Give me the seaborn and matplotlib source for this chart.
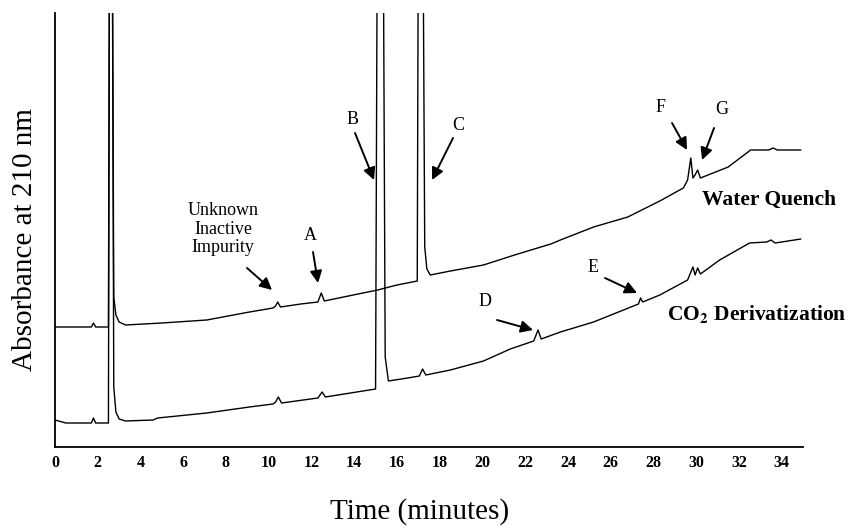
import numpy as np
import pandas as pd
import matplotlib
matplotlib.use("Agg")
import matplotlib.pyplot as plt
from matplotlib.ticker import MultipleLocator
import seaborn as sns

# ---- data (time in minutes, absorbance in arbitrary detector units) ----
water_time = [0.0, 1.7, 1.8, 1.9, 2.5, 2.55, 2.68, 2.75, 2.85, 3.0, 3.3, 5.0, 7.1, 9.1,
              10.2, 10.32, 10.42, 10.55, 11.5, 12.3, 12.46, 12.6, 13.5, 15.1, 16.0,
              16.95, 17.0, 17.22, 17.3, 17.4, 17.56, 18.5, 20.05, 21.5, 23.2, 23.65,
              25.2, 26.8, 28.3, 29.4, 29.6, 29.75, 29.85, 29.95, 30.07, 30.2, 31.5,
              32.55, 33.4, 33.6, 33.8, 34.9]
water_abs = [120, 120, 124, 120, 120, 520, 520, 150, 132, 125, 122, 124, 127, 135,
             139, 141, 145, 140, 143, 145, 154, 146, 150, 157, 162,
             166, 520, 520, 200, 178, 172, 176, 182, 192, 203, 207,
             220, 230, 246, 259, 267, 289, 269, 272, 277, 269, 280,
             297, 297, 299, 297, 297]

co2_time = [0.0, 0.5, 1.7, 1.8, 1.9, 2.5, 2.55, 2.68, 2.75, 2.85, 3.0, 3.3, 4.6, 4.8,
            7.1, 9.1, 10.2, 10.32, 10.45, 10.6, 12.3, 12.5, 12.65, 15.0, 15.08, 15.36,
            15.45, 15.6, 16.5, 17.05, 17.2, 17.35, 18.5, 20.05, 21.3, 22.4, 22.6, 22.75,
            23.65, 25.2, 27.3, 27.4, 27.5, 28.3, 29.6, 29.85, 29.95, 30.07, 30.2, 31.1,
            32.5, 33.3, 33.5, 33.7, 34.9]
co2_abs = [27, 24, 24, 29, 24, 24, 520, 520, 60, 35, 28, 26, 27, 29,
           34, 40, 43, 45, 50, 44, 49, 55, 50, 58, 520, 520,
           90, 66, 69, 71, 78, 72, 77, 86, 98, 106, 117, 108,
           115, 125, 143, 149, 145, 152, 167, 180, 172, 179, 173, 187,
           204, 205, 207, 204, 208]

x_ticks = list(range(0, 35, 2))

water = pd.DataFrame({"time": water_time, "abs": water_abs})
co2 = pd.DataFrame({"time": co2_time, "abs": co2_abs})

sns.set_style("white")
plt.rcParams["font.family"] = ["Liberation Serif", "DejaVu Serif"]
plt.rcParams["mathtext.fontset"] = "stix"
plt.rcParams["text.color"] = "black"
plt.rcParams["axes.labelcolor"] = "black"
plt.rcParams["xtick.color"] = "black"
plt.rcParams["xtick.labelcolor"] = "black"

fig = plt.figure(figsize=(8.52, 5.31), dpi=100)
ax = fig.add_axes([55 / 852, 84 / 531, 748 / 852, 434 / 531])

for df in (water, co2):
    sns.lineplot(data=df, x="time", y="abs", ax=ax, color="black", lw=1.0,
                 estimator=None, sort=False)

ax.set_xlim(0, 35)
ax.set_ylim(0, 434)
ax.set_yticks([])
ax.set_xticks(x_ticks)
ax.set_xticklabels([str(t) for t in x_ticks], fontweight="bold", fontsize=11.5,
                   color="black")
ax.xaxis.set_minor_locator(MultipleLocator(0.2))
ax.tick_params(axis="x", which="major", direction="in", length=6, width=1.0,
               pad=6, color="black", labelcolor="black")
ax.tick_params(axis="x", which="minor", direction="in", length=3, width=0.8,
               color="black")
for s in ("top", "right"):
    ax.spines[s].set_visible(False)
for s in ("left", "bottom"):
    ax.spines[s].set_color("black")
    ax.spines[s].set_linewidth(1.3)

ax.set_xlabel("Time (minutes)", fontsize=21, va="center", color="black")
ax.xaxis.set_label_coords(0.487, -0.148)
ax.set_ylabel("Absorbance at 210 nm", fontsize=21, va="center", color="black")
ax.yaxis.set_label_coords(-0.04, 0.477)


def px(xp, yp):
    return ((xp - 55) / 21.37, 447 - yp)


arrow = dict(arrowstyle="-|>", mutation_scale=18, lw=1.4, color="black",
             shrinkA=0, shrinkB=0)

notes = [
    ("Unknown\nInactive\nImpurity", (223, 229), (247, 268), (272, 290)),
    ("A", (310, 235), (313, 252), (318, 283)),
    ("B", (352, 120), (355, 133), (374, 180)),
    ("C", (458, 125), (453, 138), (432, 180)),
    ("D", (485, 302), (497, 320), (533, 330)),
    ("E", (593, 268), (605, 278), (637, 293)),
    ("F", (660, 108), (672, 123), (687, 150)),
    ("G", (722, 110), (714, 128), (702, 160)),
]
for label, tpos, a0, a1 in notes:
    ax.text(*px(*tpos), label, ha="center", va="center", fontsize=13,
            linespacing=1.1, color="black")
    ax.annotate("", xy=px(*a1), xytext=px(*a0), arrowprops=arrow,
                annotation_clip=False)

ax.text(*px(769, 200), "Water Quench", ha="center", va="center",
        fontsize=15.5, fontweight="bold", color="black")
ax.text(*px(757, 314), r"CO$_\mathbf{2}$ Derivatization", ha="center",
        va="center", fontsize=15.5, fontweight="bold", color="black")

fig.savefig("out.png", dpi=100, facecolor="white")
